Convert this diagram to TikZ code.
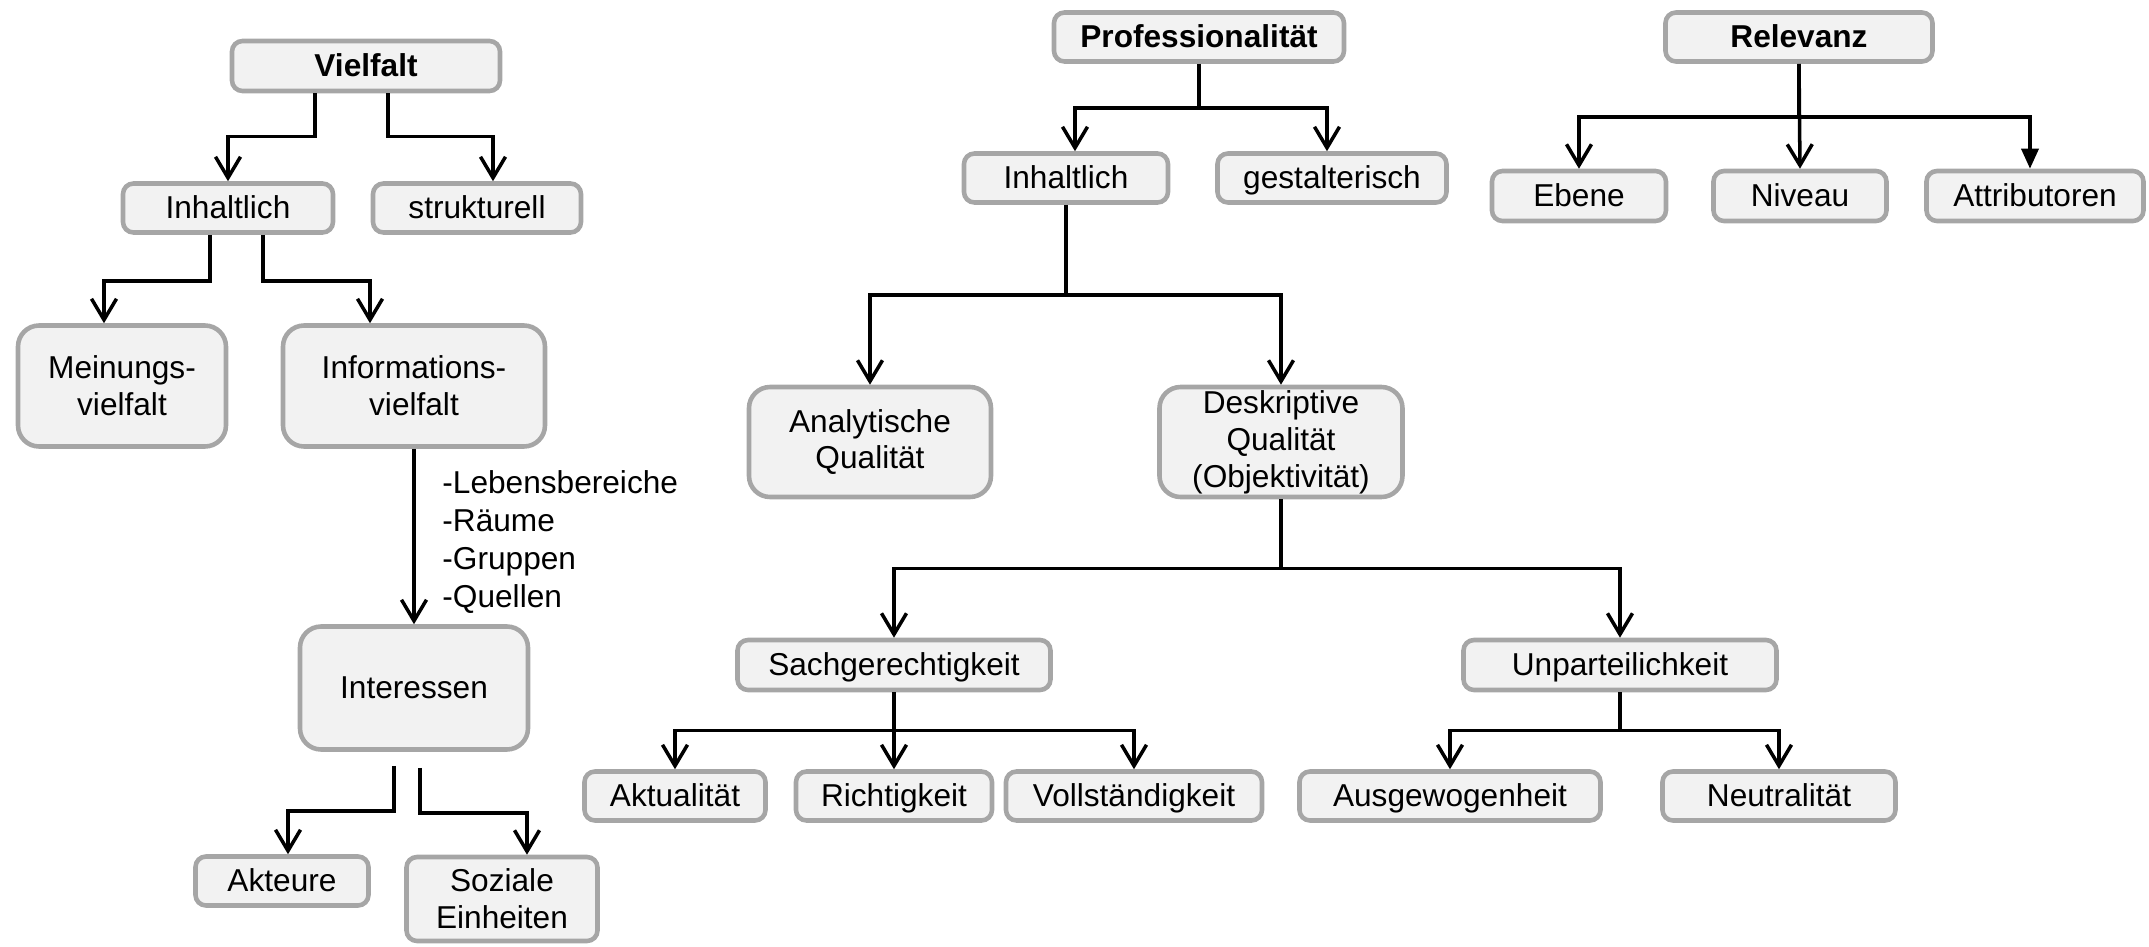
\documentclass[tikz,border=0pt]{standalone}
\usepackage{fontspec}
\setmainfont{Liberation Sans}
\usepackage{tikz}
\usetikzlibrary{arrows.meta,positioning,calc}

\definecolor{boxfill}{HTML}{F2F2F2}
\definecolor{boxline}{HTML}{A6A6A6}

\tikzset{
  box/.style={rectangle, rounded corners=3pt, draw=boxline, fill=boxfill,
    line width=1.3pt, inner sep=0pt, align=center,
    text height=1.6ex, text depth=0.45ex,
    font=\fontsize{9}{10.5}\selectfont},
  bigbox/.style={box, rounded corners=6pt, text height=, text depth=},
  head/.style={box, font=\fontsize{9}{10.5}\selectfont\bfseries},
  arr/.style={draw=black, line width=1pt, -{Straight Barb[length=2.1mm,width=2.5mm]}},
  arrfull/.style={draw=black, line width=1pt, -{Triangle[length=2mm,width=1.7mm]}}
}

\begin{document}
\begin{tikzpicture}
  \useasboundingbox (0,0) rectangle (21.49,-9.46);

  % Vielfalt
  \node[head, minimum width=2.68cm, minimum height=0.50cm] (vielfalt) at (3.66,-0.66) {Vielfalt};
  \node[box, minimum width=2.10cm, minimum height=0.49cm] (inhL) at (2.28,-2.08) {Inhaltlich};
  \node[box, minimum width=2.08cm, minimum height=0.49cm] (struk) at (4.77,-2.08) {strukturell};
  \node[bigbox, minimum width=2.08cm, minimum height=1.21cm] (meinung) at (1.22,-3.86) {Meinungs-\\vielfalt};
  \node[bigbox, minimum width=2.62cm, minimum height=1.21cm] (info) at (4.14,-3.86) {Informations-\\vielfalt};
  \node[bigbox, minimum width=2.28cm, minimum height=1.23cm] (interessen) at (4.14,-6.88) {Interessen};
  \node[box, minimum width=1.73cm, minimum height=0.49cm] (akteure) at (2.82,-8.81) {Akteure};
  \node[bigbox, rounded corners=3pt, minimum width=1.91cm, minimum height=0.84cm] (soziale) at (5.02,-8.99) {Soziale\\Einheiten};
  \node[anchor=west, align=left, font=\fontsize{9}{10.9}\selectfont] (felder) at (4.30,-5.42)
    {-Lebensbereiche\\-Räume\\-Gruppen\\-Quellen};

  \draw[arr] ([xshift=-5.1mm]vielfalt.south) -- ++(0,-0.43) -| (inhL.north);
  \draw[arr] ([xshift=2.2mm]vielfalt.south) -- ++(0,-0.43) -| ([xshift=1.6mm]struk.north);
  \draw[arr] ([xshift=-1.8mm]inhL.south) -- ++(0,-0.46) -| ([xshift=-1.8mm]meinung.north);
  \draw[arr] ([xshift=3.5mm]inhL.south) -- ++(0,-0.46) -| ([xshift=-4.4mm]info.north);
  \draw[arr] (info.south) -- (interessen.north);
  \draw[arr] ([xshift=-2mm,yshift=-1.4mm]interessen.south) -- ++(0,-0.45) -| ([xshift=0.6mm]akteure.north);
  \draw[arr] ([xshift=0.6mm,yshift=-1.6mm]interessen.south) -- ++(0,-0.45) -| ([xshift=2.5mm]soziale.north);

  % Professionalitaet
  \node[head, minimum width=2.90cm, minimum height=0.49cm] (prof) at (11.99,-0.37) {Professionalität};
  \node[box, minimum width=2.04cm, minimum height=0.49cm] (inhP) at (10.66,-1.78) {Inhaltlich};
  \node[box, minimum width=2.29cm, minimum height=0.49cm] (gestalt) at (13.32,-1.78) {gestalterisch};
  \node[bigbox, minimum width=2.42cm, minimum height=1.10cm] (analyt) at (8.70,-4.42) {Analytische\\Qualität};
  \node[bigbox, minimum width=2.43cm, minimum height=1.10cm] (deskr) at (12.81,-4.42) {Deskriptive\\Qualität\\(Objektivität)};
  \node[box, minimum width=3.13cm, minimum height=0.50cm] (sach) at (8.94,-6.65) {Sachgerechtigkeit};
  \node[box, minimum width=3.13cm, minimum height=0.50cm] (unpart) at (16.20,-6.65) {Unparteilichkeit};
  \node[box, minimum width=1.81cm, minimum height=0.49cm] (aktual) at (6.75,-7.96) {Aktualität};
  \node[box, minimum width=1.96cm, minimum height=0.49cm] (richt) at (8.94,-7.96) {Richtigkeit};
  \node[box, minimum width=2.56cm, minimum height=0.49cm] (vollst) at (11.34,-7.96) {Vollständigkeit};
  \node[box, minimum width=3.01cm, minimum height=0.49cm] (ausgew) at (14.50,-7.96) {Ausgewogenheit};
  \node[box, minimum width=2.33cm, minimum height=0.49cm] (neutral) at (17.79,-7.96) {Neutralität};

  \draw[arr] (prof.south) -- ++(0,-0.44) -| ([xshift=0.9mm]inhP.north);
  \draw[arr] (prof.south) -- ++(0,-0.44) -| ([xshift=-0.5mm]gestalt.north);
  \draw[arr] (inhP.south) -- ++(0,-0.90) -| (analyt.north);
  \draw[arr] (inhP.south) -- ++(0,-0.90) -| (deskr.north);
  \draw[arr] (deskr.south) -- ++(0,-0.69) -| (sach.north);
  \draw[arr] (deskr.south) -- ++(0,-0.69) -| (unpart.north);
  \draw[arr] (sach.south) -- ++(0,-0.38) -| (aktual.north);
  \draw[arr] (sach.south) -- (richt.north);
  \draw[arr] (sach.south) -- ++(0,-0.38) -| (vollst.north);
  \draw[arr] (unpart.south) -- ++(0,-0.38) -| (ausgew.north);
  \draw[arr] (unpart.south) -- ++(0,-0.38) -| (neutral.north);

  % Relevanz
  \node[head, minimum width=2.67cm, minimum height=0.49cm] (relevanz) at (17.99,-0.37) {Relevanz};
  \node[box, minimum width=1.74cm, minimum height=0.50cm] (ebene) at (15.79,-1.96) {Ebene};
  \node[box, minimum width=1.73cm, minimum height=0.50cm] (niveau) at (18.00,-1.96) {Niveau};
  \node[box, minimum width=2.17cm, minimum height=0.50cm] (attrib) at (20.35,-1.96) {Attributoren};

  \draw[arr] (relevanz.south) -- ++(0,-0.53) -| (ebene.north);
  \draw[arr] (relevanz.south) -- (niveau.north);
  \draw[arrfull] (relevanz.south) -- ++(0,-0.53) -| ([xshift=-0.5mm]attrib.north);
\end{tikzpicture}
\end{document}
